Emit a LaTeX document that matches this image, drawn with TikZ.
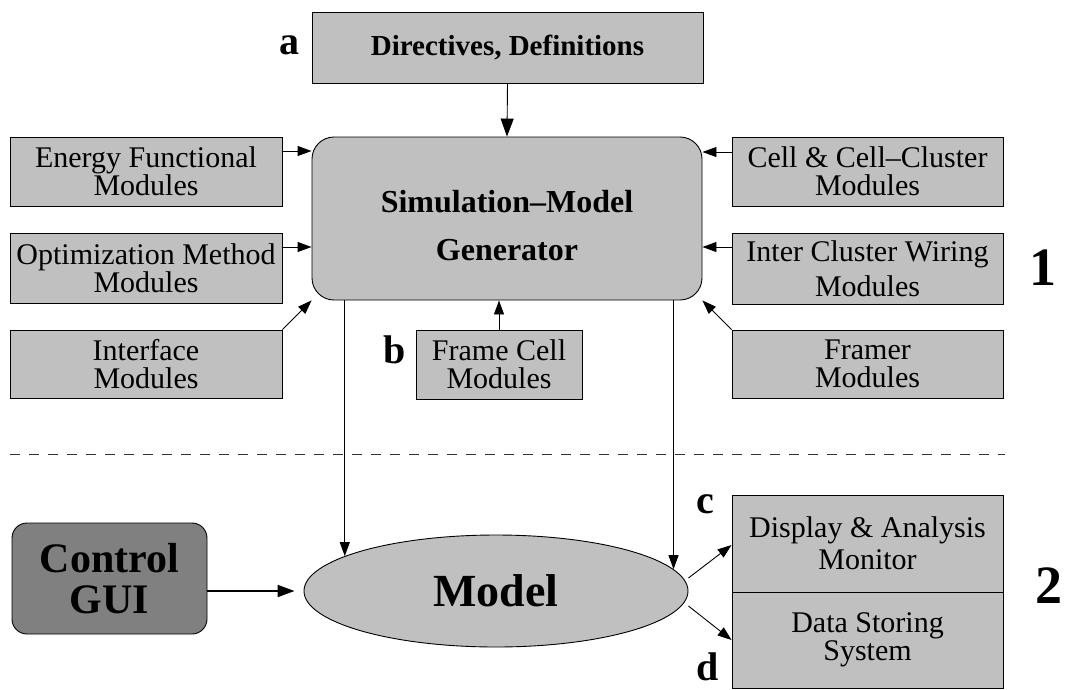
\documentclass[tikz,border=0pt]{standalone}
\usepackage{fontspec}
\setmainfont{Liberation Serif}
\usetikzlibrary{arrows.meta,shapes.geometric}
\definecolor{boxgray}{HTML}{C0C0C0}
\definecolor{guigray}{HTML}{808080}

\begin{document}
\begin{tikzpicture}[x=1pt,y=1pt,
  arr/.style={-{Triangle[length=14pt,width=10pt]}, line width=0.9pt},
  bigarr/.style={-{Triangle[length=18pt,width=13pt]}, line width=0.9pt},
  guiarr/.style={-{Triangle[length=17pt,width=12pt]}, line width=2pt},
  modbox/.style={draw=black, line width=0.9pt, fill=boxgray, inner sep=0pt,
    align=center, font=\fontsize{30}{28}\selectfont},
  tag/.style={anchor=base, inner sep=0pt, font=\bfseries\fontsize{40}{40}\selectfont},
  part/.style={anchor=base, inner sep=0pt, font=\bfseries\fontsize{54}{54}\selectfont},
]
\useasboundingbox (0,0) rectangle (1066,-689);

% generator stage
\node[modbox, minimum width=391pt, minimum height=71pt,
      font=\bfseries\fontsize{29}{29}\selectfont] (dir) at (507.5,-47.5) {Directives, Definitions};
\node[modbox, rounded corners=22pt, minimum width=390pt, minimum height=163pt,
      text height=84pt,
      font=\bfseries\fontsize{32}{48}\selectfont] (gen) at (507,-218.5) {Simulation\textendash Model\\Generator};

\node[modbox, minimum width=272pt, minimum height=69pt] (en) at (146,-171.5) {Energy Functional\\Modules};
\node[modbox, minimum width=272pt, minimum height=70pt] (opt) at (146,-268) {Optimization Method\\Modules};
\node[modbox, minimum width=272pt, minimum height=68pt] (ifc) at (146,-364) {Interface\\Modules};

\node[modbox, minimum width=271pt, minimum height=69pt] (cell) at (867.5,-171.5) {Cell \& Cell\textendash Cluster\\Modules};
\node[modbox, minimum width=271pt, minimum height=71pt] (icw) at (867.5,-268.5) {Inter Cluster Wiring\\[7pt]Modules};
\node[modbox, minimum width=271pt, minimum height=68pt] (frm) at (867.5,-364) {Framer\\Modules};

\node[modbox, minimum width=166pt, minimum height=69pt] (fc) at (499,-364.5) {Frame Cell\\Modules};

% runtime stage
\node[draw=black, line width=0.9pt, fill=guigray, rounded corners=15pt, inner sep=0pt,
      minimum width=195pt, minimum height=111pt, align=center,
      font=\bfseries\fontsize{42}{41}\selectfont] (gui) at (109.5,-578.5) {Control\\GUI};
\node[ellipse, draw=black, line width=0.9pt, fill=boxgray, inner sep=0pt,
      minimum width=384pt, minimum height=112pt,
      font=\bfseries\fontsize{46}{46}\selectfont] (model) at (496,-591) {Model};

\node[modbox, minimum width=271pt, minimum height=97pt] (disp) at (867.5,-543.5) {Display \& Analysis\\[4pt]Monitor};
\node[modbox, minimum width=271pt, minimum height=96pt] (data) at (867.5,-640) {Data Storing\\System};

% separator between the two stages
\draw[line width=0.8pt, black!80, dash pattern=on 10pt off 9pt] (10,-454) -- (1005,-454);

% connectors into the generator
\draw[bigarr] (dir.south) -- (gen.north);
\path ([yshift=20.5pt]en.east) coordinate (enA);
\draw[arr] (enA) -- (enA -| gen.west);
\path ([yshift=21pt]opt.east) coordinate (optA);
\draw[arr] (optA) -- (optA -| gen.west);
\draw[arr] (ifc.north east) -- (gen.south west);
\path ([yshift=19.5pt]cell.west) coordinate (cellA);
\draw[arr] (cellA) -- (cellA -| gen.east);
\path ([yshift=21.5pt]icw.west) coordinate (icwA);
\draw[arr] (icwA) -- (icwA -| gen.east);
\draw[arr] (frm.north west) -- (gen.south east);
\draw[arr] (fc.north) -- (fc.north |- gen.south);

% generator output into the model
\draw[arr] (gen.south -| model.167.7) -- (model.167.7);
\draw[arr] (gen.south -| model.7.25) -- (model.7.25);

% control and outputs
\draw[guiarr, shorten >=9pt] (gui.east |- model.west) -- (model.west);
\draw[arr] ([yshift=13pt]model.east) -- ([yshift=-1.5pt]disp.west);
\draw[arr] ([yshift=-15pt]model.east) -- (data.west);

% labels
\node[tag] (la) at (289,-54) {a};
\node[tag] (lb) at (394.5,-363) {b};
\node[tag] (lc) at (705,-513) {c};
\node[tag] (ld) at (708,-680) {d};
\node[part] (p1) at (1042.5,-285) {1};
\node[part] (p2) at (1049,-603) {2};
\end{tikzpicture}
\end{document}
